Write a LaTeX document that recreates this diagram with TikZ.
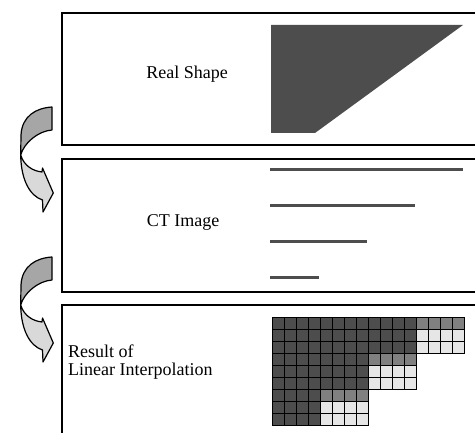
\documentclass[tikz,border=0pt]{standalone}
\usepackage{fontspec}
\setmainfont{Liberation Serif}
\definecolor{shapegray}{HTML}{4D4D4D}
\definecolor{midgray}{HTML}{808080}
\definecolor{lightcell}{HTML}{E6E6E6}
\definecolor{arrowdark}{HTML}{A6A6A6}
\definecolor{arrowlight}{HTML}{D9D9D9}
\tikzset{
  panel/.style={draw=black, line width=1.6pt},
  label/.style={font=\fontsize{18}{18}\selectfont, inner sep=0pt},
  cell/.style={draw=black, line width=0.9pt},
  trace/.style={draw=shapegray, line width=3pt},
  twist/.style={draw=black, line width=1.2pt, line join=round},
  twistarrow/.pic={
    % lower, lighter half ending in the arrow head
    \filldraw[twist, fill=arrowlight] (20.7,305) .. controls (24,316) and (33,321) .. (42,322)
      -- (42.5,318) -- (53.3,343) -- (43,362) -- (42.5,350)
      .. controls (30,346) and (21,330) .. (20.7,305) -- cycle;
    % upper, darker half of the twisted ribbon
    \filldraw[twist, fill=arrowdark] (52,257) .. controls (36,258) and (22,266) .. (21,285)
      -- (20.7,305) .. controls (24,293) and (38,281) .. (52,280) -- cycle;
  }
}
\begin{document}
\begin{tikzpicture}[x=1pt, y=-1pt]
\useasboundingbox (0,0) rectangle (475,433);
\clip (0,0) rectangle (475,433);

% three stacked panels
\draw[panel] (62,13) rectangle (490,145);
\draw[panel] (62,159) rectangle (490,292);
\draw[panel] (62,305) rectangle (490,450);

% labels
\node[label] (real) at (187,74) {Real Shape};
\node[label] (ct) at (183,222) {CT Image};
\node[label, anchor=base west] (result) at (68,358) {Result of};
\node[label, anchor=base west] (linear) at (68,376) {Linear Interpolation};

% real shape: a trapezoid
\fill[shapegray] (271,25) -- (463,25) -- (315,133) -- (271,133) -- cycle;

% CT image: scan lines
\draw[trace] (270,170) -- (463,170);
\draw[trace] (270,206) -- (415,206);
\draw[trace] (270,242) -- (367,242);
\draw[trace] (270,278) -- (319,278);

% interpolated voxel grid
\foreach \r/\n in {0/12,1/12,2/12,3/8,4/8,5/8,6/4,7/4,8/4}
  \foreach \c in {1,...,\n}
    \filldraw[cell, fill=shapegray] ({272+(\c-1)*12},{317+\r*12}) rectangle +(12,12);
\foreach \r/\s in {0/12,3/8,6/4}
  \foreach \c in {0,...,3}
    \filldraw[cell, fill=midgray] ({272+(\s+\c)*12},{317+\r*12}) rectangle +(12,12);
\foreach \r/\s in {1/12,2/12,4/8,5/8,7/4,8/4}
  \foreach \c in {0,...,3}
    \filldraw[cell, fill=lightcell] ({272+(\s+\c)*12},{317+\r*12}) rectangle +(12,12);

% curved arrows between panels
\pic at (0,-150) {twistarrow};
\pic at (0,0) {twistarrow};
\end{tikzpicture}
\end{document}
